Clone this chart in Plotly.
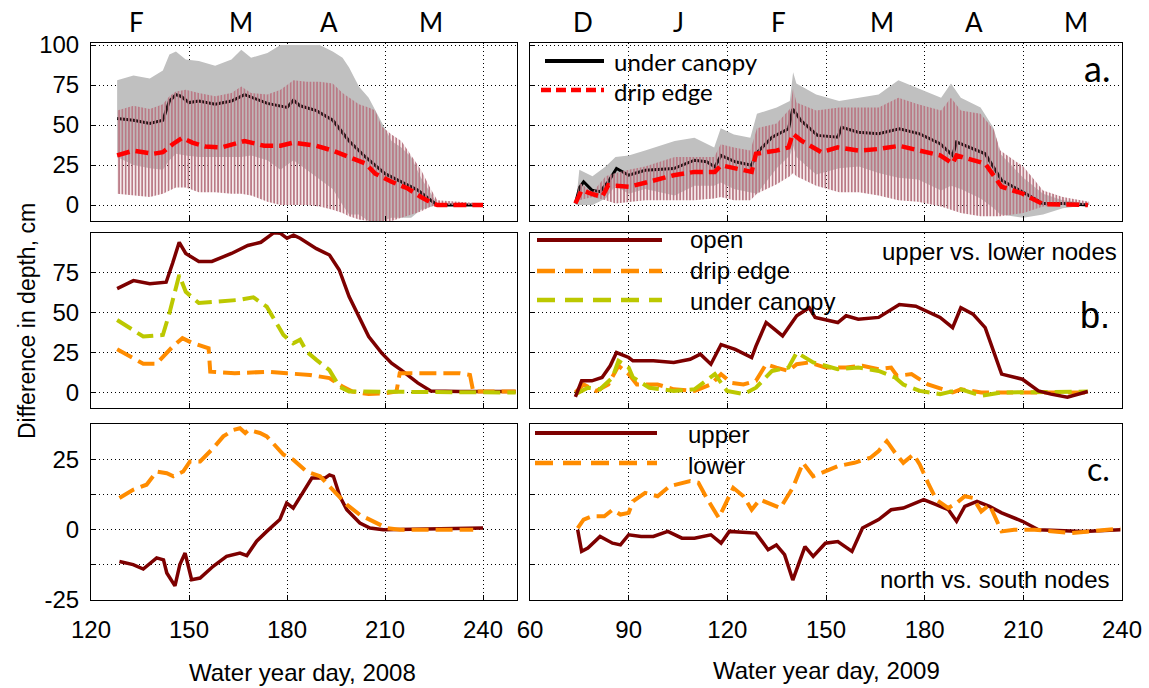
import plotly.graph_objects as go

# ---------------- data ----------------
# Panel a, 2008 (left)
LA_band_days = [128,133,138,142,144,146,149,153,158,163,166,169,174,178,182,186,190,194,197,199,202,205,207,209,212,215,218,221,224,226,240]
LA_gray_hi = [78,81,79,84,94,96,91,90,87,91,97,92,95,100,100,100,100,96,92,86,74,67,59,51,40,36,30,17,7,1,1]
LA_gray_lo = [30,25,23,22,28,32,31,30,30,30,30,31,28,22,28,22,16,10,0,-6,-6,-10,-10,-10,-8,-8,-8,-3,-1,0,0]
LA_pink_hi = [59,62,60,63,68,71,72,70,68,70,74,70,69,72,78,77,77,76,70,67,63,61,59,49,44,40,31,22,10,3,1]
LA_pink_lo = [7,6,5,7,9,11,11,8,8,7,7,6,2,0,0,0,-1,-3,-5,-7,-9,-10,-10,-10,-10,-8,-6,-4,-1,0,0]
LA_uc_days = [128,133,138,142,144,146,147.5,150,153,158,163,167,174,180,182,184,189,194,199,204,208,210,215,220,224,226,240]
LA_uc = [54,53,51,53,65,69,68,64,65,63,65,69,63.5,61,65.5,62,59,53,40,30,23,19.6,14.5,9.3,3,0,0]
LA_de_days = [128,133,139,142,145,148,151,155,160,167,173,178,182,189,194,199,204,207,212,217,221,225,226,240]
LA_de = [31,34,32,33,38,42,39,36.6,36,40,37,37,39,37,34,30,26,19.6,14.5,10.3,5,0.6,0,0]

# Panel a, 2009 (right)
RA_band_days = [74,75,79,83,86,90,95,104,110,116,118,122,127,129,135,139,140,141,147,154,160,166,172,178,185,188,191,197,201,203,210,216,222,230]
RA_gray_hi = [2,22,18,24,30,31,34,40,42,36,48,44,42,57,61,65,83,76,69,65,67,69,78,73,67,76,67,61,48,32,17,7,3,1]
RA_gray_lo = [0,0,0,4,12,7,10,6,12,12,14,10,8,7,23,31,37,30,19,23,24,20,17,16,9,12,10,4,-2,-6,-8,-6,-2,0]
RA_pink_hi = [2,14,8,18,20,22,24,30,30,30,38,36,34,48,51,60,73,64,59,61,61,61,67,63,59,67,59,57,47,34,24,9,5,2]
RA_pink_lo = [0,3,5,3,1,2,3,3,3,4,5,3,3,7,13,18,20,18,12,8,8,6,3,2,-1,-3,-5,-7,-7,-7,-5,-1,0,0]
RA_uc_days = [73.8,75.1,76.3,78.8,81.3,83.8,86.3,90,95,103.7,110,113.7,116.2,118.1,122.4,127.4,128.7,133.6,138.6,139.9,
              142.4,147.4,153.6,154.8,159.8,166,172.3,178.5,184.7,188.5,189.7,194.7,198.4,203.4,209.7,215.9,222.1,229.6]
RA_uc = [1,11,14.5,9.3,8.3,14.5,22.8,18.6,21.7,22.8,28,27,23.8,31,27,24.8,32,42.4,47.6,60,
         52.8,43.5,42.4,48.6,45.5,44.5,47.6,44.5,38.3,31,39.3,35,32,15.5,8.3,1,1,0]
RA_de_days = [73.8,75.7,78.8,81.9,83.8,90,95,103.7,110,116.2,118.1,122.4,127.4,128.7,134.9,138.6,139.9,142.4,148.6,153.6,
              159.8,166,172.3,178.5,184.7,188.5,189.7,194.7,198.4,203.4,209.7,215.9,229.6]
RA_de = [1,9.3,7,5,12.4,11.4,13.9,18.6,20.7,20.7,24.8,22.8,20.7,32,34,36,44.5,40.4,33,36,
         34,35,37,34,31,25.9,31,28,25.9,11.4,7.2,0.6,0]

# Panel b, 2008 (left): upper vs. lower nodes
LB_open_days = [128,133,138,143,145,147,149,153,157,163,168,172,176,178,180,182,184,189,193,196,199,202,205,209,212,215,220,224,233,250]
LB_open = [65,70,68,69,81,94,87,82,82,87,92,94,100,99.6,96.5,98.5,96.5,90,86,76.7,60,47.5,35,24.6,18.3,14,6,1,0.6,0.6]
LB_de_days = [128,136,140,145,148,151,156,156.5,164,174,180,187,193,197,200,205,210,213.5,214.5,233,236,237,250]
LB_de = [27,18,18,28.7,34,31,27.7,13,12,13,12,11,9,3.7,0.6,-1,-0.4,0.6,12,12,11,0.6,0.6]
LB_uc_days = [128,133,136,142,144,147,149,153,158.5,165.6,169.7,173.8,178.9,181.9,184,186,189,193,196,199,250]
LB_uc = [45.4,39,35,36,49.6,73.5,63,56,57,58,59.6,53.7,36,30.8,33,25.6,20.4,14,3.7,0.6,0]

# Panel b, 2009 (right)
RB_open_days = [73.8,75.7,78.8,81.9,84.4,86.3,90,91.3,97.5,103.7,108.7,111.8,115,118.1,122.4,127.4,128.7,131.8,134.3,136.8,
                141.1,144.9,146.7,153.6,156.1,159.8,166,172.3,177.3,184.7,188.5,191,194.7,198.4,203.4,209.7,214.6,218.4,223.4,227.1,229.6]
RB_open = [-2.7,7.3,7.3,9.4,16.7,25,21.9,19.8,19.8,18.8,20.8,24,17.7,30,27,21.9,29,43.8,39.6,35.4,
           48,53,47,43.8,48,45.8,47,55,54,47,40.6,53,49,40.6,11.5,8.3,1,-1,-3,-1,0.6]
RB_de_days = [73.8,76.3,80.1,83.8,86.9,90,92.5,98.8,103.7,110,115,118.1,121.2,124.9,128.7,131.8,134.9,138.6,141.1,144.9,
              149.8,156.1,161.1,166,169.8,171.6,176,181,188.5,191,197.2,229.6]
RB_de = [0,5,1,5,16.7,11.5,5,5,2,1,5,11.5,6,5,7.3,17.7,15.6,13.5,17.7,18.8,
         15.6,15.6,16.7,14.6,15.6,10.4,11.5,5,0,2,0,0]
RB_uc_days = [73.8,77.6,81.3,85.1,86.9,90,91.3,96.3,103.7,110,116.2,119.9,124.9,128.7,133.6,138.6,141.1,146.1,153.6,159.8,
              166,171,173.5,178.5,184.7,191,197.2,203.4,229.6]
RB_uc = [-1,3,2,9.4,19.8,15.6,9.4,3,1,2,11.5,1,-1,3,13.5,15.6,25,18.8,14.6,15.6,
         13.5,9.4,5,1,-1,2,-2,0,0.6]

# Panel c, 2008 (left): north vs. south nodes
LC_up_days = [128.7,132.9,136,140.1,142.2,143.2,145.7,147.2,148.8,150.8,153.4,157.4,161.5,165.6,167.7,170.7,173.8,177.8,179.9,181.9,
              187.6,191.7,193,194.2,196.2,198.3,202.3,205.4,209.5,240]
LC_up = [-11.3,-12.4,-14,-10,-10.7,-15.4,-20,-12.4,-8.3,-17.8,-17.2,-13,-9.5,-8.3,-9.2,-4.1,-0.6,3.6,9.5,7.7,
         18.4,18.4,19.5,19,11.8,7.1,2.4,0.6,0,0.6]
LC_lo_days = [128.7,132.9,137,140.1,143.2,145.2,148.2,150.3,153.4,157.4,160.5,163.6,165.6,167.2,168.2,171.7,173.8,176.9,178.9,181.9,
              186,190.1,194.2,198.3,202.3,205.4,210.5,214.6,237]
LC_lo = [11.3,14.2,16,20.7,20.1,19,20.7,24.3,24.3,29,33.2,35.5,36.1,34.4,35.5,34.4,33.2,29,26.7,24.9,
         20.7,19,14.2,8.9,5.3,3.6,0.6,0,0]

# Panel c, 2009 (right)
RC_up_days = [74.5,75.7,77.6,81.3,85.1,87.5,90,93.8,97.5,101.9,106.2,110,115,118.1,120.6,128.7,132.4,134.9,137.4,139.9,
              143.6,146.1,149.8,153.6,157.9,161.1,166,169.8,173.5,176,179.7,183.5,187.2,189.7,192.2,195.9,199.7,203.4,209.7,214.6,228.3,239.5]
RC_up = [0,-7.7,-6.5,-2.4,-4.8,-5.4,-1.8,-2.4,-2.4,-0.6,-3,-3,-1.8,-4.8,-0.6,-1.2,-7.1,-5.4,-8.9,-17.9,
         -6,-9.5,-4.8,-4.2,-7.7,0.6,3.6,7.1,7.7,8.9,10.7,8.9,7.1,3,8.3,10.1,8.3,6,3,0,-0.6,0]
RC_lo_days = [74.5,76.3,78.8,82.6,85.1,87.5,90,91.3,95,98.8,102.5,108.7,111.2,113.7,117.4,119.9,121.8,124.9,127.4,129.9,
              133.6,136.1,139.9,143,146.1,151.1,153.6,158.6,163.5,166,168.5,171,173.5,176.6,178.5,181,183.5,187.2,189.7,192.2,
              194.7,197.2,199.7,203.4,207.2,213.4,224.6,239.5]
RC_lo = [0.6,3.6,4.8,4.8,7.1,5.4,6,10.1,13.1,11.9,15.5,17.3,16.7,11.3,4.2,10.1,14.9,11.9,7.1,10.7,
         8.9,7.7,14.9,23.8,19,21.4,22.6,23.8,25.6,28,31.5,27.4,23.8,26.8,23.2,16.7,10.7,7.7,9.5,11.9,
         11.3,6.5,8.9,-0.6,0,0,-1.2,0.4]

# tick labels / month labels
X_TICKS_2008 = [120, 150, 180, 210, 240]
X_TICKS_2009 = [60, 90, 120, 150, 180, 210, 240]
MONTHS_2008 = ["F", "M", "A", "M"]
MONTH_POS_2008 = [134, 166, 193, 224]
MONTHS_2009 = ["D", "J", "F", "M", "A", "M"]
MONTH_POS_2009 = [76, 105, 135.5, 167, 195, 226]

# ---------------- styling ----------------
W, H = 1149, 688
ARIAL = "Liberation Sans, Arial, sans-serif"
CALI = "Lato, Open Sans, sans-serif"
GRAY = "#c0c0c0"
PINK = "rgb(186,122,134)"
DRED = "#7d0000"
ORANGE = "#ff8c00"
YGREEN = "#bcc800"
RED = "#ff0000"

def px(x):
    return x / W

def py(y):
    return 1 - y / H

XL = [px(91), px(517)]
XR = [px(530), px(1122)]
ROW_A = [py(221), py(43)]
ROW_B = [py(408), py(233)]
ROW_C = [py(600), py(424)]

fig = go.Figure()

def line(x, y, ax, color, width, dash="solid"):
    fig.add_trace(go.Scatter(x=x, y=y, mode="lines", xaxis="x" + ax, yaxis="y" + ax,
                             line=dict(color=color, width=width, dash=dash),
                             showlegend=False, hoverinfo="skip"))

def band(x, lo, hi, ax, color=None, pattern=False):
    fig.add_trace(go.Scatter(x=x, y=lo, mode="lines", xaxis="x" + ax, yaxis="y" + ax,
                             line=dict(width=0, color="rgba(0,0,0,0)"), showlegend=False, hoverinfo="skip"))
    kw = {}
    if pattern:
        kw["fillcolor"] = "rgba(0,0,0,0)"
        kw["fillpattern"] = dict(shape="|", size=3.3, solidity=0.58, fgcolor=PINK,
                                 bgcolor="rgba(0,0,0,0)", fillmode="replace")
    else:
        kw["fillcolor"] = color
    fig.add_trace(go.Scatter(x=x, y=hi, mode="lines", xaxis="x" + ax, yaxis="y" + ax, fill="tonexty",
                             line=dict(width=0, color="rgba(0,0,0,0)"), showlegend=False, hoverinfo="skip", **kw))

DASH_A = "13px,6px"
DASH_B = "17px,7px"

# panel a left (axis "" -> x / y)
band(LA_band_days, LA_gray_lo, LA_gray_hi, "", color=GRAY)
line(LA_uc_days, LA_uc, "", "black", 3)
band(LA_band_days, LA_pink_lo, LA_pink_hi, "", pattern=True)
line(LA_de_days, LA_de, "", RED, 4.5, DASH_A)

# panel a right
band(RA_band_days, RA_gray_lo, RA_gray_hi, "2", color=GRAY)
line(RA_uc_days, RA_uc, "2", "black", 3)
band(RA_band_days, RA_pink_lo, RA_pink_hi, "2", pattern=True)
line(RA_de_days, RA_de, "2", RED, 4.5, DASH_A)

# panel b
line(LB_open_days, LB_open, "3", DRED, 3.5)
line(LB_de_days, LB_de, "3", ORANGE, 4, DASH_B)
line(LB_uc_days, LB_uc, "3", YGREEN, 4, DASH_B)
line(RB_de_days, RB_de, "4", ORANGE, 4, DASH_B)
line(RB_uc_days, RB_uc, "4", YGREEN, 4, DASH_B)
line(RB_open_days, RB_open, "4", DRED, 3.5)

# panel c
line(LC_up_days, LC_up, "5", DRED, 3.5)
line(LC_lo_days, LC_lo, "5", ORANGE, 4, DASH_B)
line(RC_up_days, RC_up, "6", DRED, 3.5)
line(RC_lo_days, RC_lo, "6", ORANGE, 4, DASH_B)

# ---------------- axes ----------------
def axis_common():
    return dict(showline=True, mirror=True, linecolor="black", linewidth=1,
                ticks="inside", ticklen=5, tickcolor="black", tickwidth=1,
                showgrid=True, gridcolor="black", griddash="1px,3px", gridwidth=1,
                zeroline=False, fixedrange=True, automargin=False,
                tickfont=dict(family=ARIAL, size=24, color="black"))

layout_axes = {}
specs = [
    ("", XL, ROW_A, [120, 250.4], X_TICKS_2008, False, [-10, 101.25], [0, 25, 50, 75, 100], None, True),
    ("2", XR, ROW_A, [60, 240], X_TICKS_2009, False, [-10, 101.25], [0, 25, 50, 75, 100], None, False),
    ("3", XL, ROW_B, [120, 250.4], X_TICKS_2008, False, [-9.7, 99.8], [0, 25, 50, 75], None, True),
    ("4", XR, ROW_B, [60, 240], X_TICKS_2009, False, [-9.7, 99.8], [0, 25, 50, 75], None, False),
    ("5", XL, ROW_C, [120, 250.4], X_TICKS_2008, True, [-25, 37.6], [-25, -12.5, 0, 12.5, 25], ["-25", "", "0", "", "25"], True),
    ("6", XR, ROW_C, [60, 240], X_TICKS_2009, True, [-25, 37.6], [-25, -12.5, 0, 12.5, 25], ["-25", "", "0", "", "25"], False),
]
for suf, xd, yd, xr, xt, xlab, yr, yt, ytt, ylab in specs:
    xa = axis_common()
    xa.update(domain=xd, range=xr, tickvals=xt, showticklabels=xlab, anchor="y" + suf,
              ticklabelstandoff=8)
    ya = axis_common()
    ya.update(domain=yd, range=yr, tickvals=yt, showticklabels=ylab, anchor="x" + suf,
              ticklabelstandoff=6, ticklen=4)
    if ytt is not None:
        ya["ticktext"] = ytt
    layout_axes["xaxis" + suf] = xa
    layout_axes["yaxis" + suf] = ya

fig.update_layout(template="none")
fig.update_layout(**layout_axes)

# ---------------- annotations & legend samples ----------------
ann = []
shapes = []

def text(x, y, s, size, family=ARIAL, xanchor="left", angle=0):
    ann.append(dict(x=px(x), y=py(y), xref="paper", yref="paper", text=s, showarrow=False,
                    xanchor=xanchor, yanchor="middle", textangle=angle,
                    font=dict(family=family, size=size, color="black")))

def sample(x0, x1, y, color, width, dash="solid"):
    shapes.append(dict(type="line", xref="paper", yref="paper", x0=px(x0), x1=px(x1), y0=py(y), y1=py(y),
                       line=dict(color=color, width=width, dash=dash)))

# month labels
for m, d in zip(MONTHS_2008, MONTH_POS_2008):
    ann.append(dict(x=d, y=py(22), xref="x", yref="paper", text=m, showarrow=False,
                    xanchor="center", yanchor="middle", font=dict(family=CALI, size=26, color="black")))
for m, d in zip(MONTHS_2009, MONTH_POS_2009):
    ann.append(dict(x=d, y=py(22), xref="x2", yref="paper", text=m, showarrow=False,
                    xanchor="center", yanchor="middle", font=dict(family=CALI, size=26, color="black")))

# panel a legend
sample(545, 604, 61, "black", 4)
sample(541, 604, 90, RED, 4.5, "10px,5px")
text(612, 62, "under canopy", 24, CALI)
text(612, 91, "drip edge", 24, CALI)
text(1112, 68, "a.", 36, CALI, xanchor="right")

# panel b legend
sample(537, 662, 240, DRED, 4)
sample(537, 662, 271, ORANGE, 4.5, "18px,10px")
sample(537, 662, 300, YGREEN, 4.5, "18px,10px")
text(688, 240, "open", 24)
text(688, 270, "drip edge", 24)
text(688, 301, "under canopy", 24)
text(1119, 251, "upper vs. lower nodes", 24, xanchor="right")
text(1112, 315, "b.", 36, xanchor="right")

# panel c legend
sample(535, 657, 433, DRED, 4)
sample(535, 657, 463, ORANGE, 4.5, "18px,10px")
text(686, 434, "upper", 24)
text(686, 465, "lower", 24)
text(1112, 468, "c.", 32, CALI, xanchor="right")
text(1111, 579, "north vs. south nodes", 24, xanchor="right")

# axis titles
text(302, 672, "Water year day, 2008", 24, xanchor="center")
text(826, 670, "Water year day, 2009", 24, xanchor="center")
ann.append(dict(x=px(27), y=py(321), xref="paper", yref="paper", text="Difference in depth, cm",
                showarrow=False, textangle=-90, xanchor="center", yanchor="middle",
                font=dict(family=ARIAL, size=23, color="black")))

fig.update_layout(width=W, height=H, margin=dict(l=0, r=0, t=0, b=0, pad=0),
                  paper_bgcolor="white", plot_bgcolor="white", showlegend=False,
                  annotations=ann, shapes=shapes)

fig.write_html("out.html")
